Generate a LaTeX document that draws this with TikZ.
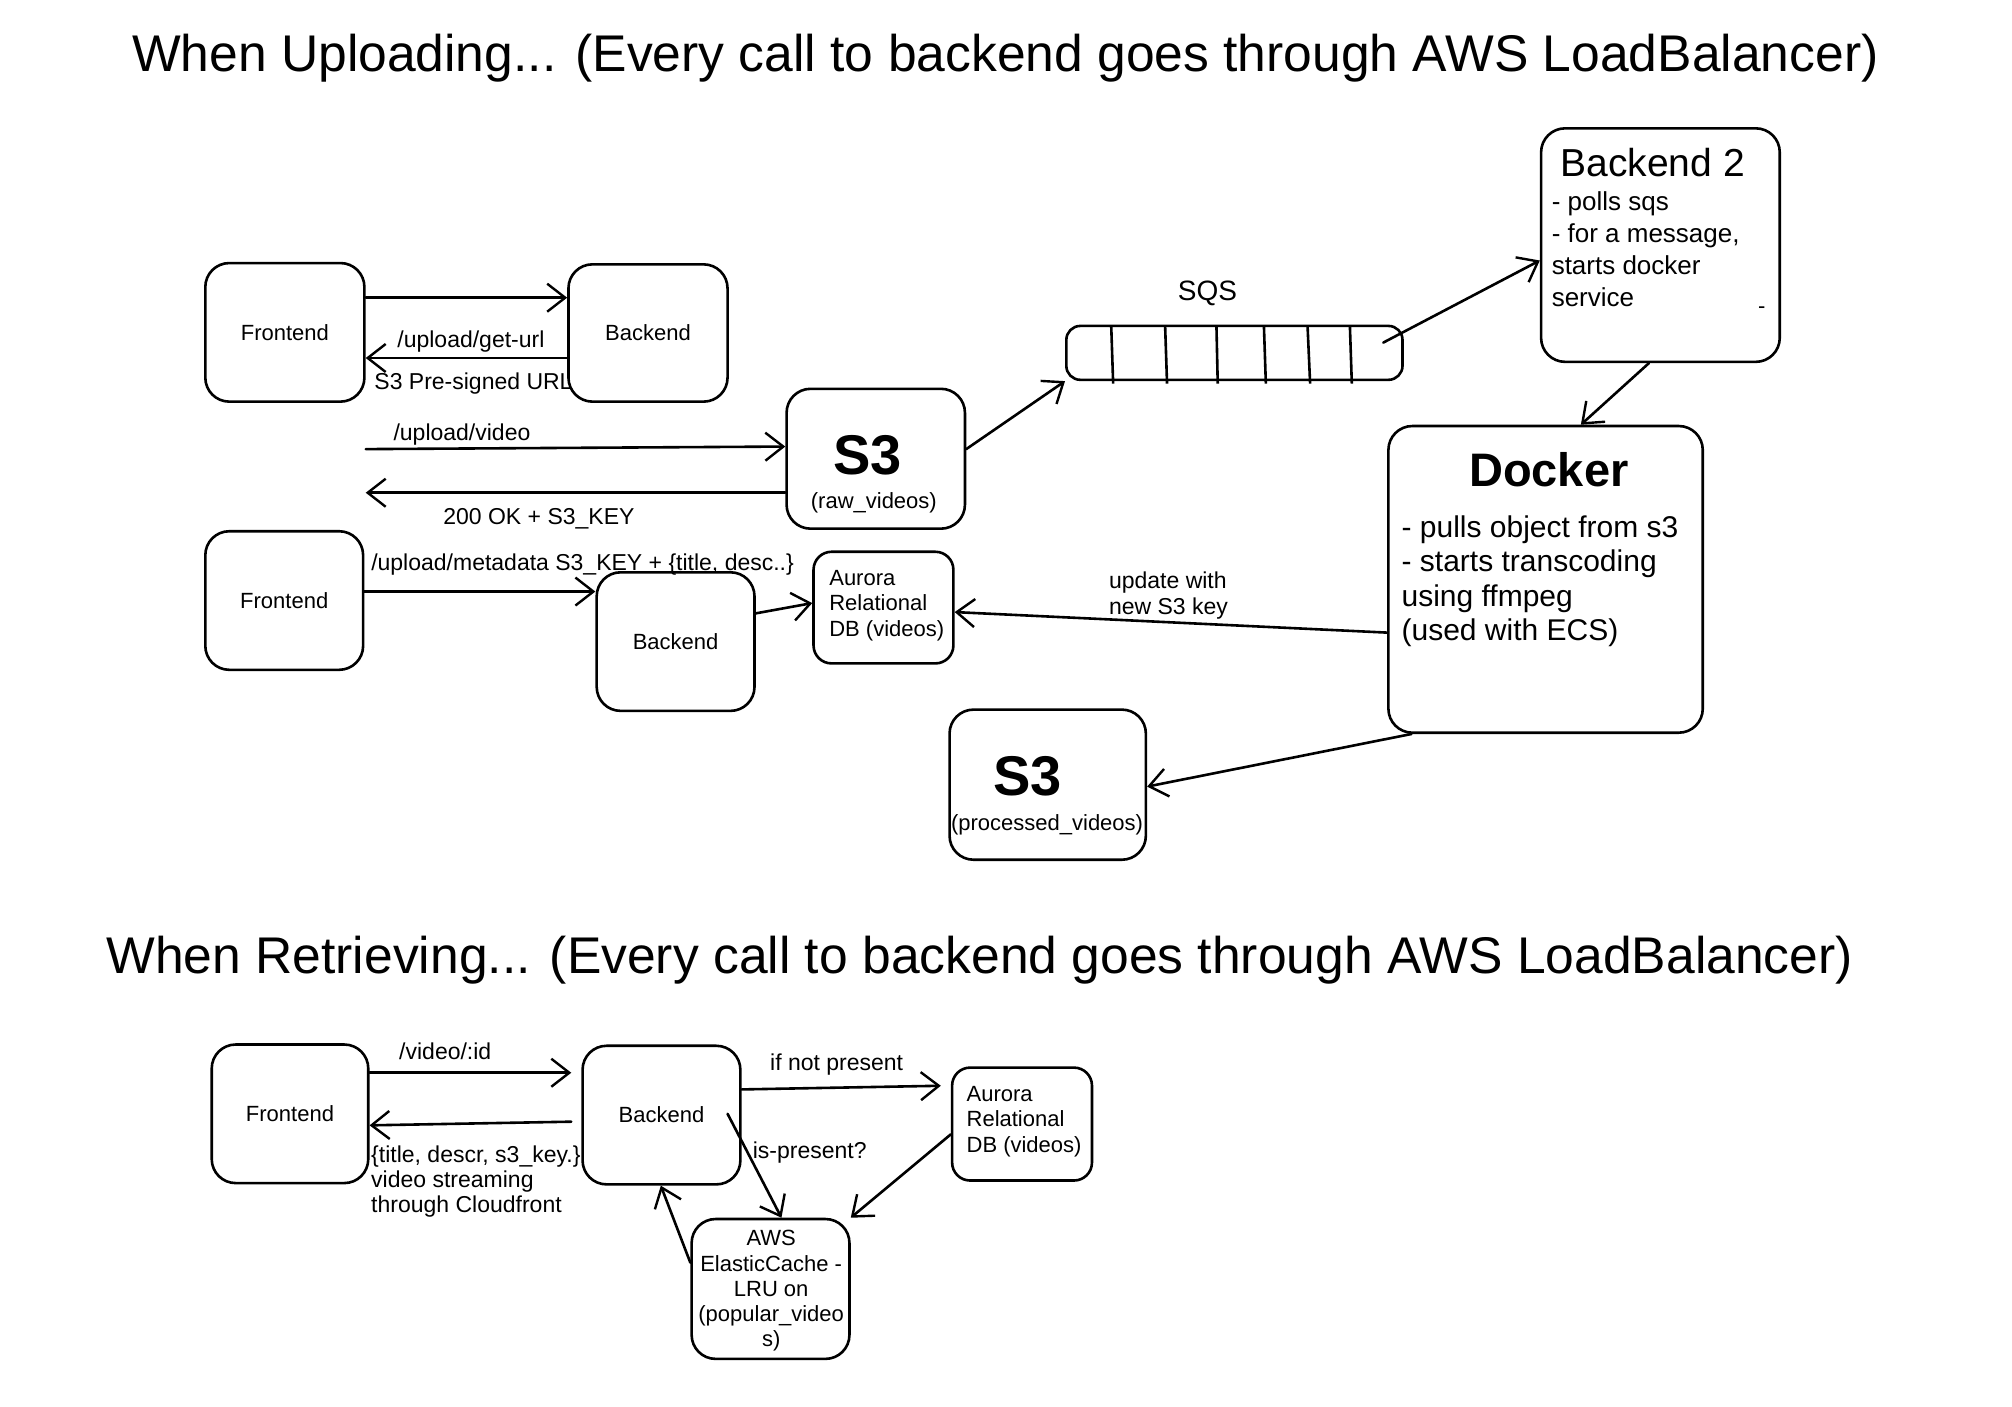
\documentclass[tikz,border=0pt]{standalone}
\usepackage{fontspec}
\setmainfont{Liberation Sans}
\usetikzlibrary{arrows.meta,fit,calc}
\tikzset{
  box/.style={draw, line width=1.3pt, rounded corners=12pt, inner sep=0pt},
  sbox/.style={box, rounded corners=9pt},
  arr/.style={line width=1.3pt, line cap=round, -{Straight Barb[length=9pt,width=14pt,line width=1.2pt]}},
  lbl/.style={inner sep=0pt, font=\fontsize{11.5}{13}\selectfont},
  txt/.style={inner sep=0pt, font=\fontsize{11}{12.8}\selectfont},
  ttl/.style={inner sep=0pt, font=\fontsize{25.8}{30}\selectfont},
  big/.style={inner sep=0pt, font=\fontsize{28}{30}\selectfont\bfseries},
}
\begin{document}
\begin{tikzpicture}[x=0.6416pt, y=-0.6416pt]
\useasboundingbox (0,0) rectangle (1568,1096);

% titles
\node[ttl] (t1) at (783.5,45) {When Uploading... (Every call to backend goes through AWS LoadBalancer)};
\node[ttl] (t2) at (763.5,748) {When Retrieving... (Every call to backend goes through AWS LoadBalancer)};

% ---------- upload section boxes
\node[box, fit={(160,205) (284,313)}] (f1) {};
\node[txt] (f1t) at (f1.center) {Frontend};
\node[box, fit={(443,206) (567,313)}] (b1) {};
\node[txt] (b1t) at (b1.center) {Backend};
\node[box, fit={(613,303) (752,412)}] (s3raw) {};
\node[big] (s3rawt) at (676,355) {S3};
\node[txt] (s3rawl) at (681,392) {(raw\_videos)};
\node[draw, line width=1.3pt, rounded corners=7pt, inner sep=0pt, fit={(831,254) (1093,296)}] (sqs) {};
\node[inner sep=0pt, font=\fontsize{14}{16}\selectfont] (sqst) at (941,229) {SQS};
\node[box, fit={(1201,100) (1387,282)}] (be2) {};
\node[inner sep=0pt, font=\fontsize{19.5}{22}\selectfont] (be2t) at (1288,127) {Backend 2};
\node[inner sep=0pt, anchor=west, align=left, font=\fontsize{13}{16}\selectfont] (be2b) at (1209,194.5) {- polls sqs\\- for a message,\\starts docker\\service};
\node[txt] (be2d) at (1373,242) {-};
\node[box, fit={(1082,332) (1327,571)}] (docker) {};
\node[inner sep=0pt, font=\fontsize{23.5}{26}\selectfont\bfseries] (dockert) at (1207,366) {Docker};
\node[inner sep=0pt, anchor=west, align=left, font=\fontsize{15}{17.1}\selectfont] (dockerb) at (1092,453) {- pulls object from s3\\- starts transcoding\\using ffmpeg\\(used with ECS)};
\node[box, fit={(740,553) (893,670)}] (s3proc) {};
\node[big] (s3proct) at (801,605) {S3};
\node[txt] (s3procl) at (816,643) {(processed\_videos)};
\node[box, fit={(160,414) (283,522)}] (f2) {};
\node[txt] (f2t) at (f2.center) {Frontend};
\node[box, fit={(465,446) (588,554)}] (b2) {};
\node[txt] (b2t) at (b2.center) {Backend};
\node[sbox, fit={(634,430) (743,517)}] (aur1) {};
\node[txt, anchor=west, align=left] (aur1t) at (646,472) {Aurora\\Relational\\DB (videos)};

% SQS cells
\foreach \xa/\xb in {866/867.5, 908/909.5, 948/949, 985/986.5, 1019/1021, 1052/1053.5}
  \draw[line width=1.3pt] (\xa,254) -- (\xb,299);

% ---------- upload section connectors
\draw[arr] (f1.east |- 0,232) -- (b1.west |- 0,232);
\draw[arr] (b1.west |- 0,279) -- (f1.east |- 0,279);
\node[lbl] (l1) at (367,266) {/upload/get-url};
\node[lbl] (l2) at (369,299) {S3 Pre-signed URL};
\draw[arr] (f1.east |- 0,350) -- (s3raw.west |- 0,348);
\node[lbl] (l3) at (360,339) {/upload/video};
\draw[arr] (s3raw.west |- 0,384) -- (f1.east |- 0,384);
\node[lbl] (l4) at (420,404) {200 OK + S3\_KEY};
\draw[arr] (s3raw.east |- 0,350) -- (sqs.south west);
\coordinate (sqsout) at (1078,267);
\draw[arr] (sqsout) -- (be2.west |- 0,203);
\draw[arr] (be2.south -| 1285,0) -- (docker.north -| 1232,0);
\draw[arr] (docker.west |- 0,493) -- (aur1.east |- 0,477);
\node[lbl, anchor=west, align=left, font=\fontsize{11.5}{12.8}\selectfont] (l5) at (864,464) {update with\\new S3 key};
\draw[arr] (docker.south -| 1100,0) -- (s3proc.east |- 0,613);
\draw[arr] (f2.east |- 0,461) -- (b2.west |- 0,461);
\node[lbl] (l6) at (454,440) {/upload/metadata S3\_KEY + \{title, desc..\}};
\draw[arr] (b2.east |- 0,478) -- (aur1.west |- 0,470);

% ---------- retrieval section
\node[box, fit={(165,814) (287,922)}] (f3) {};
\node[txt] (f3t) at (f3.center) {Frontend};
\node[box, fit={(454,815) (577,923)}] (b3) {};
\node[txt] (b3t) at (b3.center) {Backend};
\node[sbox, fit={(742,832) (851,920)}] (aur2) {};
\node[txt, anchor=west, align=left] (aur2t) at (753,874) {Aurora\\Relational\\DB (videos)};
\node[box, fit={(539,950) (662,1059)}] (cache) {};
\node[txt, align=center, font=\fontsize{11}{12.6}\selectfont] (cachet) at (601,1006) {AWS\\ElasticCache -\\LRU on\\(popular\_video\\s)};

\draw[arr, shorten >=5pt] (f3.east |- 0,836) -- (b3.west |- 0,836);
\node[lbl] (l7) at (347,819) {/video/:id};
\draw[arr, shorten <=5pt] (b3.west |- 0,874) -- (f3.east |- 0,877);
\node[lbl, anchor=west, align=left, font=\fontsize{11.5}{12.4}\selectfont] (l8) at (289,921) {\{title, descr, s3\_key.\}\\video streaming\\through Cloudfront};
\draw[arr, shorten >=5pt] (b3.east |- 0,849) -- (aur2.west |- 0,846);
\node[lbl] (l9) at (652,830) {if not present};
\coordinate (b3out) at (567,868);
\draw[arr] (b3out) -- (cache.north -| 609,0);
\node[lbl] (l10) at (631,898) {is-present?};
\draw[arr] (cache.west |- 0,984) -- (b3.south -| 515,0);
\draw[arr] (aur2.west |- 0,884) -- (cache.north east);
\end{tikzpicture}
\end{document}
